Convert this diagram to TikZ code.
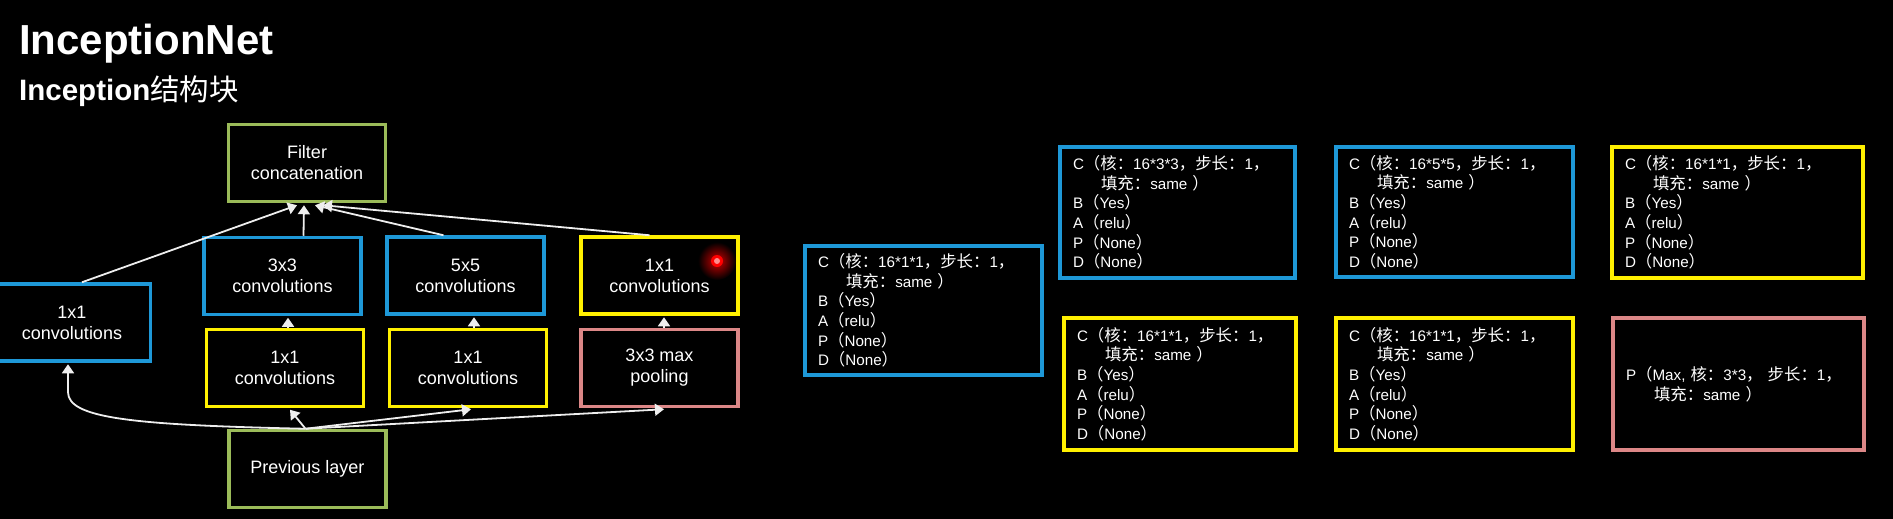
\documentclass[tikz,border=0pt]{standalone}
\usepackage{fontspec}
\setmainfont{Liberation Sans}
\newfontfamily\cjk{Noto Sans CJK SC}[Scale=1.08]
\usetikzlibrary{arrows.meta}
\newcommand{\zh}[1]{{\cjk #1}}
\definecolor{cblue}{RGB}{30,152,215}
\definecolor{cyellow}{RGB}{255,240,0}
\definecolor{cgreen}{RGB}{155,187,89}
\definecolor{cpink}{RGB}{220,135,135}
\definecolor{arrw}{RGB}{238,238,238}
\tikzset{
  lbox/.style={draw, line width=3.5pt, minimum width=157pt, minimum height=77pt,
    align=center, text=white, font=\fontsize{18}{21}\selectfont, inner sep=0pt},
  rbox/.style={draw, line width=4pt, align=left, text=white,
    font=\fontsize{15.2}{19.6}\selectfont, inner xsep=13pt, inner ysep=0pt},
  arr/.style={draw=arrw, line width=1.8pt, -{Triangle[width=12pt,length=9pt]}},
}
\begin{document}
\begin{tikzpicture}[x=1pt,y=-1pt]
\fill[black] (0,0) rectangle (1893,519);
\useasboundingbox (0,0) rectangle (1893,519);

% titles
\node[anchor=base west, font=\bfseries\fontsize{42}{50}\selectfont, text=white, inner sep=0pt] (title) at (19,55) {InceptionNet};
\node[anchor=base west, font=\fontsize{29.5}{35}\selectfont, text=white, inner sep=0pt] (sub) at (19,100) {\textbf{Inception}{\fontspec{Noto Sans CJK SC}结构块}};

% left diagram
\node[lbox, draw=cgreen] (concat) at (307,163) {Filter\\concatenation};
\node[lbox, draw=cblue] (l1) at (72,322.5) {1x1\\convolutions};
\node[lbox, draw=cblue] (k3) at (282.5,276) {3x3\\convolutions};
\node[lbox, draw=cyellow] (y1) at (285,368) {1x1\\convolutions};
\node[lbox, draw=cgreen] (prev) at (307.5,469) {Previous layer};
\node[lbox, draw=cblue] (k5) at (465.5,275.5) {5x5\\convolutions};
\node[lbox, draw=cyellow] (y2) at (468,368) {1x1\\convolutions};
\node[lbox, draw=cyellow] (y3) at (659.5,275.5) {1x1\\convolutions};
\node[lbox, draw=cpink] (pool) at (659.5,368) {3x3 max\\pooling};

% arrows to concatenation
\draw[arr] ([xshift=10pt]l1.north) -- ([xshift=-10pt,yshift=-2pt]concat.south);
\draw[arr] ([xshift=21pt]k3.north) -- ([xshift=-3pt,yshift=-2pt]concat.south);
\draw[arr] ([xshift=-22pt]k5.north) -- ([xshift=8pt,yshift=-2pt]concat.south);
\draw[arr] ([xshift=-10pt]y3.north) -- ([xshift=16pt,yshift=-2pt]concat.south);
% short vertical arrows
\draw[arr] ([xshift=3pt]y1.north) -- ([xshift=5.5pt,yshift=-1.5pt]k3.south);
\draw[arr] ([xshift=6pt]y2.north) -- ([xshift=8.5pt,yshift=-1.5pt]k5.south);
\draw[arr] ([xshift=4.5pt]pool.north) -- ([xshift=4.5pt,yshift=-1.5pt]y3.south);
% from previous layer
\draw[arr] ([xshift=-2pt]prev.north) .. controls (130,425) and (68,418) .. (68,392) -- ([xshift=-4pt,yshift=-1.5pt]l1.south);
\draw[arr] ([xshift=-2pt]prev.north) -- ([xshift=5pt,yshift=-1.5pt]y1.south);
\draw[arr] ([xshift=-2pt]prev.north) -- ([xshift=3pt,yshift=-1pt]y2.south);
\draw[arr] ([xshift=-2pt]prev.north) -- ([xshift=4.5pt,yshift=-1pt]pool.south);

% laser pointer dot
\shade[inner color=red!80!black, outer color=black] (717,261) circle (19pt);
\fill[red] (717,261) circle (6pt);
\fill[red!45!white] (717,261) circle (3pt);

% right side boxes
\node[rbox, draw=cblue, minimum width=237pt, minimum height=129pt, text width=211pt] (b1) at (923.5,310.5)
{C\zh{（核：}16*1*1\zh{，步长：}1\zh{，}\\
\hspace*{28pt}\zh{填充：}same \zh{）}\\
B\zh{（}Yes\zh{）}\\
A\zh{（}relu\zh{）}\\
P\zh{（}None\zh{）}\\
D\zh{（}None\zh{）}};

\node[rbox, draw=cblue, minimum width=235pt, minimum height=131pt, text width=209pt] (b2) at (1177.5,212.5)
{C\zh{（核：}16*3*3\zh{，步长：}1\zh{，}\\
\hspace*{28pt}\zh{填充：}same \zh{）}\\
B\zh{（}Yes\zh{）}\\
A\zh{（}relu\zh{）}\\
P\zh{（}None\zh{）}\\
D\zh{（}None\zh{）}};

\node[rbox, draw=cblue, minimum width=237pt, minimum height=130pt, text width=211pt] (b3) at (1454.5,212)
{C\zh{（核：}16*5*5\zh{，步长：}1\zh{，}\\
\hspace*{28pt}\zh{填充：}same \zh{）}\\
B\zh{（}Yes\zh{）}\\
A\zh{（}relu\zh{）}\\
P\zh{（}None\zh{）}\\
D\zh{（}None\zh{）}};

\node[rbox, draw=cyellow, minimum width=251pt, minimum height=131pt, text width=225pt] (b4) at (1737.5,212.5)
{C\zh{（核：}16*1*1\zh{，步长：}1\zh{，}\\
\hspace*{28pt}\zh{填充：}same \zh{）}\\
B\zh{（}Yes\zh{）}\\
A\zh{（}relu\zh{）}\\
P\zh{（}None\zh{）}\\
D\zh{（}None\zh{）}};

\node[rbox, draw=cyellow, minimum width=232pt, minimum height=132pt, text width=206pt] (b5) at (1180,384)
{C\zh{（核：}16*1*1\zh{，步长：}1\zh{，}\\
\hspace*{28pt}\zh{填充：}same \zh{）}\\
B\zh{（}Yes\zh{）}\\
A\zh{（}relu\zh{）}\\
P\zh{（}None\zh{）}\\
D\zh{（}None\zh{）}};

\node[rbox, draw=cyellow, minimum width=237pt, minimum height=132pt, text width=211pt] (b6) at (1454.5,384)
{C\zh{（核：}16*1*1\zh{，步长：}1\zh{，}\\
\hspace*{28pt}\zh{填充：}same \zh{）}\\
B\zh{（}Yes\zh{）}\\
A\zh{（}relu\zh{）}\\
P\zh{（}None\zh{）}\\
D\zh{（}None\zh{）}};

\node[rbox, draw=cpink, minimum width=251pt, minimum height=132pt, text width=225pt] (b7) at (1738.5,384)
{P\zh{（}Max, \zh{核：}3*3\zh{，} \zh{步长：}1\zh{，}\\
\hspace*{28pt}\zh{填充：}same \zh{）}};
\end{tikzpicture}
\end{document}
